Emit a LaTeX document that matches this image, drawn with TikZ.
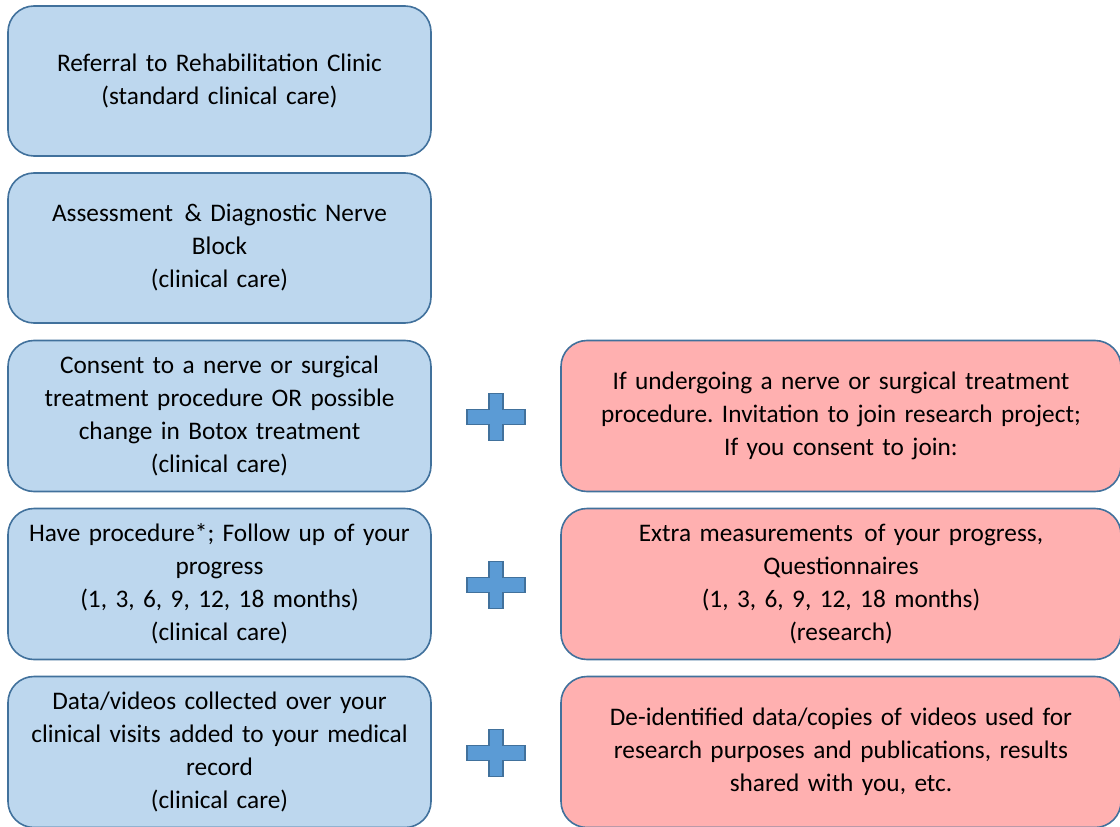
\documentclass[tikz,border=0pt]{standalone}
\usepackage{fontspec}
\setmainfont{Carlito}
\usetikzlibrary{calc}
\frenchspacing
\definecolor{bluefill}{HTML}{BDD7EE}
\definecolor{pinkfill}{HTML}{FFB0B0}
\definecolor{edgeblue}{HTML}{41719C}
\definecolor{plusfill}{HTML}{5B9BD5}
\tikzset{
  box/.style={draw=edgeblue, line width=1.6pt, rounded corners=26pt, align=center,
    font=\fontsize{25.3}{33}\selectfont, inner sep=0pt},
  leftbox/.style={box, fill=bluefill, minimum width=423pt, text width=410pt},
  rightbox/.style={box, fill=pinkfill, minimum width=560pt, text width=540pt},
  plussign/.style={draw=edgeblue, fill=plusfill, line width=1.2pt},
}
\begin{document}
\begin{tikzpicture}[x=1pt,y=-1pt]
\useasboundingbox (0,0) rectangle (1120,827);
\node[leftbox, minimum height=150pt] (l1) at (219.5,81) {Referral to Rehabilitation Clinic\\(standard clinical care)};
\node[leftbox, minimum height=150pt] (l2) at (219.5,248) {Assessment\hspace{3pt} \& Diagnostic Nerve\\Block\\(clinical care)};
\node[leftbox, minimum height=151pt] (l3) at (219.5,416) {Consent to a nerve or surgical\\treatment procedure OR possible\\change in Botox treatment\\(clinical care)};
\node[leftbox, minimum height=151pt] (l4) at (219.5,584) {Have procedure*; Follow up of your\\progress\\(1, 3, 6, 9, 12, 18 months)\\(clinical care)};
\node[leftbox, minimum height=151pt] (l5) at (219.5,752) {Data/videos collected over your\\clinical visits added to your medical\\record\\(clinical care)};
\node[rightbox, minimum height=151pt] (r3) at (841,416) {If undergoing a nerve or surgical treatment\\procedure. Invitation to join research project;\\If you consent to join:};
\node[rightbox, minimum height=151pt] (r4) at (841,584) {Extra measurements\hspace{3pt} of your progress,\\Questionnaires\\(1, 3, 6, 9, 12, 18 months)\\(research)};
\node[rightbox, minimum height=151pt] (r5) at (841,752) {De-identified data/copies of videos used for\\research purposes and publications, results\\shared with you, etc.};
\foreach \yc/\n in {417/p3,585/p4,753/p5}{
  \coordinate (\n) at (496,\yc);
  \draw[plussign] ($(\n)+(-29,-7.5)$) -- ++(22,0) -- ++(0,-16) -- ++(14,0) -- ++(0,16) -- ++(22,0)
    -- ++(0,15) -- ++(-22,0) -- ++(0,16) -- ++(-14,0) -- ++(0,-16) -- ++(-22,0) -- cycle;
}
\end{tikzpicture}
\end{document}
